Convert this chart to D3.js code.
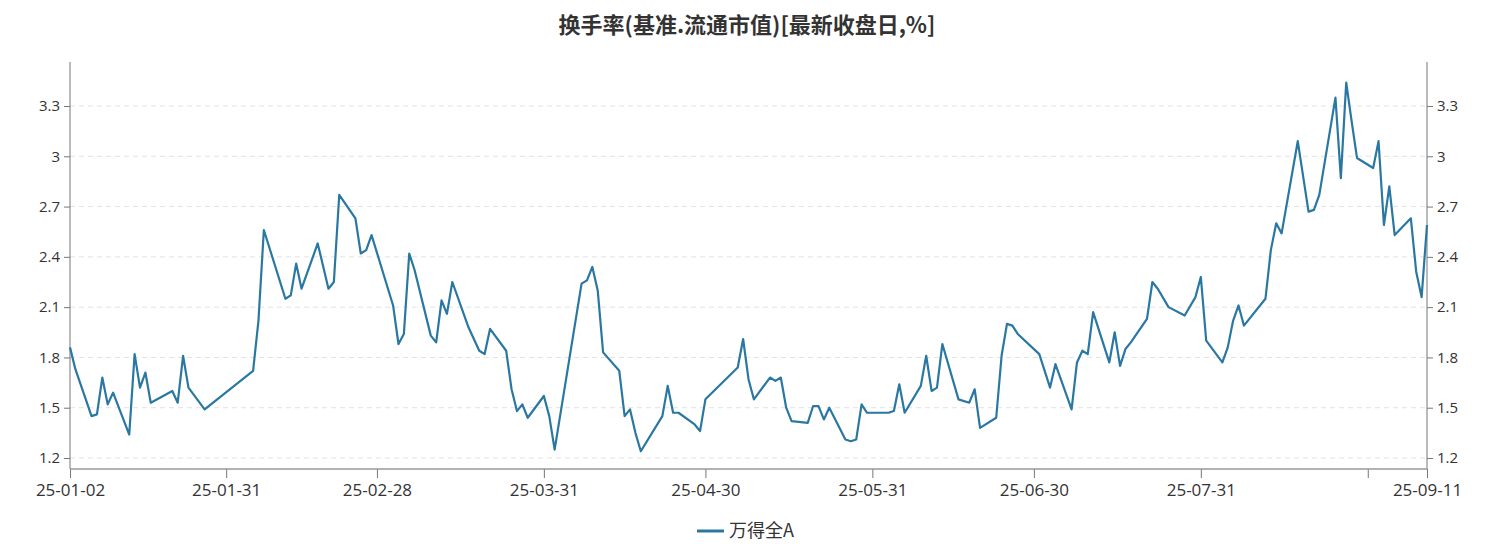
<!DOCTYPE html>
<html><head><meta charset="utf-8">
<script src="https://cdn.jsdelivr.net/npm/d3@7/dist/d3.min.js"></script>
<style>body{margin:0;background:#fff;font-family:"Microsoft YaHei","Noto Sans CJK SC",sans-serif}</style>
</head><body><svg id="c" width="1490" height="544"></svg>
<script>
const dates = ["2025-01-02","2025-01-03","2025-01-06","2025-01-07","2025-01-08","2025-01-09","2025-01-10","2025-01-13","2025-01-14","2025-01-15","2025-01-16","2025-01-17","2025-01-21","2025-01-22","2025-01-23","2025-01-24","2025-01-27","2025-02-05","2025-02-06","2025-02-07","2025-02-11","2025-02-12","2025-02-13","2025-02-14","2025-02-17","2025-02-19","2025-02-20","2025-02-21","2025-02-24","2025-02-25","2025-02-26","2025-02-27","2025-03-03","2025-03-04","2025-03-05","2025-03-06","2025-03-07","2025-03-10","2025-03-11","2025-03-12","2025-03-13","2025-03-14","2025-03-17","2025-03-19","2025-03-20","2025-03-21","2025-03-24","2025-03-25","2025-03-26","2025-03-27","2025-03-28","2025-03-31","2025-04-01","2025-04-02","2025-04-07","2025-04-08","2025-04-09","2025-04-10","2025-04-11","2025-04-14","2025-04-15","2025-04-16","2025-04-17","2025-04-18","2025-04-22","2025-04-23","2025-04-24","2025-04-25","2025-04-28","2025-04-29","2025-04-30","2025-05-06","2025-05-07","2025-05-08","2025-05-09","2025-05-12","2025-05-13","2025-05-14","2025-05-15","2025-05-16","2025-05-19","2025-05-20","2025-05-21","2025-05-22","2025-05-23","2025-05-26","2025-05-27","2025-05-28","2025-05-29","2025-05-30","2025-06-03","2025-06-04","2025-06-05","2025-06-06","2025-06-09","2025-06-10","2025-06-11","2025-06-12","2025-06-13","2025-06-16","2025-06-18","2025-06-19","2025-06-20","2025-06-23","2025-06-24","2025-06-25","2025-06-26","2025-06-27","2025-07-01","2025-07-03","2025-07-04","2025-07-07","2025-07-08","2025-07-09","2025-07-10","2025-07-11","2025-07-14","2025-07-15","2025-07-16","2025-07-17","2025-07-18","2025-07-21","2025-07-22","2025-07-23","2025-07-25","2025-07-28","2025-07-30","2025-07-31","2025-08-01","2025-08-04","2025-08-05","2025-08-06","2025-08-07","2025-08-08","2025-08-12","2025-08-13","2025-08-14","2025-08-15","2025-08-18","2025-08-19","2025-08-20","2025-08-21","2025-08-22","2025-08-25","2025-08-26","2025-08-27","2025-08-28","2025-08-29","2025-09-01","2025-09-02","2025-09-03","2025-09-04","2025-09-05","2025-09-08","2025-09-09","2025-09-10","2025-09-11"];
const values = [1.86,1.73,1.45,1.46,1.68,1.52,1.59,1.34,1.82,1.62,1.71,1.53,1.60,1.53,1.81,1.62,1.49,1.72,2.02,2.56,2.15,2.17,2.36,2.21,2.48,2.21,2.25,2.77,2.63,2.42,2.44,2.53,2.11,1.88,1.94,2.42,2.32,1.93,1.89,2.14,2.06,2.25,1.98,1.84,1.82,1.97,1.84,1.61,1.48,1.52,1.44,1.57,1.45,1.25,2.24,2.26,2.34,2.20,1.83,1.72,1.45,1.49,1.35,1.24,1.45,1.63,1.47,1.47,1.40,1.36,1.55,1.74,1.91,1.67,1.55,1.68,1.66,1.68,1.50,1.42,1.41,1.51,1.51,1.43,1.50,1.31,1.30,1.31,1.52,1.47,1.47,1.48,1.64,1.47,1.63,1.81,1.60,1.62,1.88,1.55,1.53,1.61,1.38,1.44,1.81,2.00,1.99,1.94,1.82,1.62,1.76,1.49,1.77,1.84,1.82,2.07,1.77,1.95,1.75,1.85,1.89,2.03,2.25,2.21,2.10,2.05,2.16,2.28,1.90,1.77,1.86,2.02,2.11,1.99,2.15,2.44,2.60,2.54,3.09,2.88,2.67,2.68,2.77,3.35,2.87,3.44,3.21,2.99,2.93,3.09,2.59,2.82,2.53,2.63,2.31,2.16,2.59];
const xTickDates = ["2025-01-02","2025-01-31","2025-02-28","2025-03-31","2025-04-30","2025-05-31","2025-06-30","2025-07-31","2025-08-31","2025-09-11"];
const xTickLabels = ["25-01-02","25-01-31","25-02-28","25-03-31","25-04-30","25-05-31","25-06-30","25-07-31","","25-09-11"];
const yTicks = [1.2,1.5,1.8,2.1,2.4,2.7,3.0,3.3];
const yTickLabels = ["1.2","1.5","1.8","2.1","2.4","2.7","3","3.3"];
const title = "换手率(基准.流通市值)[最新收盘日,%]";
const seriesName = "万得全A";

const parse = d3.timeParse("%Y-%m-%d");
const svg = d3.select("#c");
const L=70,R=1427,T=62,B=469;
const x = d3.scaleTime().domain([parse(dates[0]),parse(dates[dates.length-1])]).range([L,R]);
const y = d3.scaleLinear().domain([1.2,3.3]).range([458,106]);
const col="#2a78a2", txt="#333";
svg.append("text").attr("x",747).attr("y",33).attr("text-anchor","middle").attr("font-size",22).attr("font-weight","bold").attr("fill",txt).text(title);
svg.append("g").selectAll("line").data(yTicks).join("line").attr("x1",L).attr("x2",R).attr("y1",d=>y(d)).attr("y2",d=>y(d)).attr("stroke","#e3e3e3").attr("stroke-dasharray","5,4");
const fmt=(d)=>yTickLabels[yTicks.indexOf(d)];
const ly=svg.append("g").attr("transform",`translate(${L},0)`).call(d3.axisLeft(y).tickValues(yTicks).tickFormat(fmt).tickSize(6).tickPadding(4));
const ry=svg.append("g").attr("transform",`translate(${R},0)`).call(d3.axisRight(y).tickValues(yTicks).tickFormat(fmt).tickSize(6).tickPadding(4));
const xt=xTickDates.map(parse);
const ax=svg.append("g").attr("transform",`translate(0,${B})`).call(d3.axisBottom(x).tickValues(xt).tickFormat((d,i)=>xTickLabels[i]).tickSize(9).tickPadding(6));
[ly,ry,ax].forEach(g=>{g.select(".domain").remove();g.selectAll("line").attr("stroke","#777");g.selectAll("text").attr("fill",txt).attr("font-size",15).attr("font-family","Open Sans, sans-serif");});
ax.selectAll("text").attr("font-size",17);
svg.append("line").attr("x1",L).attr("x2",L).attr("y1",T).attr("y2",B).attr("stroke","#777");
svg.append("line").attr("x1",R).attr("x2",R).attr("y1",T).attr("y2",B).attr("stroke","#777");
svg.append("line").attr("x1",L).attr("x2",R).attr("y1",B).attr("y2",B).attr("stroke","#999").attr("stroke-width",1.5);
const line=d3.line().x((d,i)=>x(parse(dates[i]))).y(d=>y(d));
svg.append("path").datum(values).attr("d",line).attr("fill","none").attr("stroke",col).attr("stroke-width",2.2).attr("stroke-linejoin","round");
svg.append("line").attr("x1",697).attr("x2",724).attr("y1",531).attr("y2",531).attr("stroke",col).attr("stroke-width",3);
svg.append("text").attr("x",729).attr("y",537).attr("font-size",18).attr("fill",txt).text(seriesName);
</script></body></html>
